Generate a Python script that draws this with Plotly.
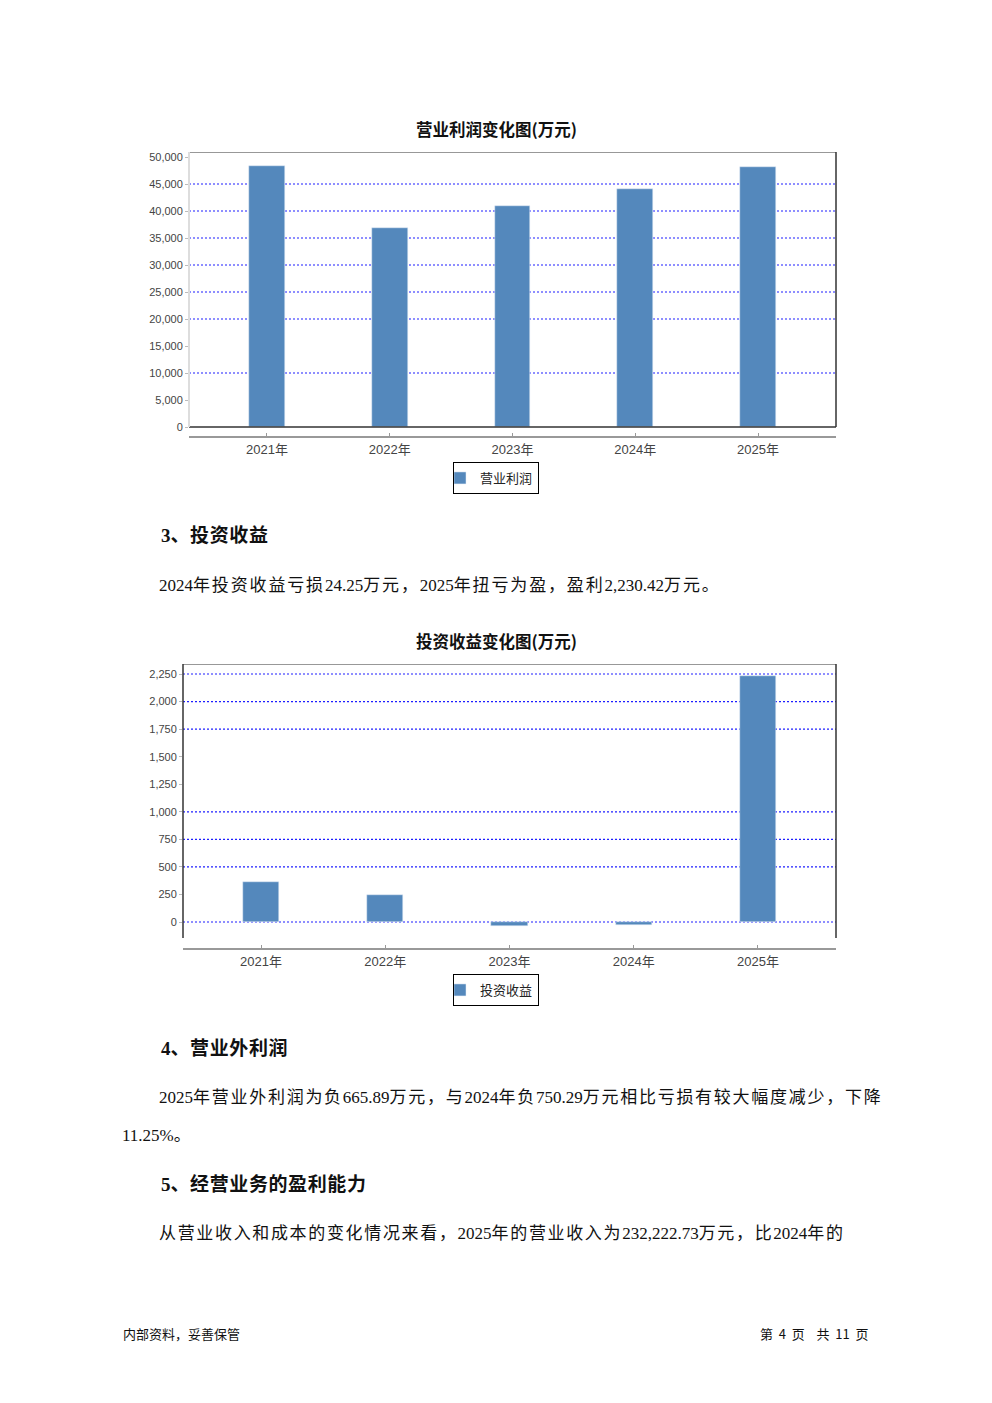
import re
import plotly.graph_objects as go

# ---------------- data ----------------
years = ["2021年", "2022年", "2023年", "2024年", "2025年"]
operating_profit = [48300, 36850, 40900, 44050, 48150]
investment_income = [363, 245, -36, -24.25, 2230.42]

y1_ticks = [0, 5000, 10000, 15000, 20000, 25000, 30000, 35000, 40000, 45000, 50000]
y1_grid = [10000, 20000, 25000, 30000, 35000, 40000, 45000]
y2_ticks = [0, 250, 500, 750, 1000, 1250, 1500, 1750, 2000, 2250]
y2_grid = [0, 500, 750, 1000, 1750, 2000, 2250]

title1 = "营业利润变化图(万元)"
title2 = "投资收益变化图(万元)"
legend1 = "营业利润"
legend2 = "投资收益"

PAGE_W, PAGE_H = 992, 1403
OFF = 8  # default body margin of the page
W, H = PAGE_W - OFF, PAGE_H - OFF
BAR = "#5488BC"
GRID = "#1f1fff"
DARK = "#333333"


def px(x):
    return (x - OFF) / W


def py(y):
    return 1 - (y - OFF) / H


fig = go.Figure()
fig.add_trace(go.Bar(x=years, y=operating_profit, name=legend1, marker_color=BAR,
                     width=0.29, xaxis="x", yaxis="y", legend="legend"))
fig.add_trace(go.Bar(x=years, y=investment_income, name=legend2, marker_color=BAR,
                     width=0.29, xaxis="x2", yaxis="y2", legend="legend2"))

# chart geometry (pixels)
c1_zero, c1_scale = 427, 5.4 / 1000
y1_lo = -(436 - c1_zero) / c1_scale
y1_hi = (c1_zero - 152) / c1_scale
c2_zero, c2_scale = 922, 248 / 2250
y2_lo = -(948 - c2_zero) / c2_scale
y2_hi = (c2_zero - 664) / c2_scale
y2_frame = -(938 - c2_zero) / c2_scale

tickfont = dict(family="Liberation Sans, Arial, sans-serif", size=11, color="#444")
xfont = dict(family="Liberation Sans, Noto Sans CJK SC, sans-serif", size=13, color="#444")
legfont = dict(family="Noto Sans CJK SC", size=13, color="#222")

fig.update_layout(
    width=W, height=H, margin=dict(l=0, r=0, t=0, b=0),
    paper_bgcolor="white", plot_bgcolor="white",
    bargap=0,
    xaxis=dict(domain=[px(189), px(836)], anchor="y", type="category",
               range=[-0.635, 4.635], showgrid=False, showline=True,
               linecolor="#999", linewidth=2, ticks="inside", ticklen=3,
               tickcolor="#999", tickfont=xfont),
    yaxis=dict(domain=[py(436), py(152)], anchor="x", range=[y1_lo, y1_hi],
               tickvals=y1_ticks, tickformat=",", showgrid=False, zeroline=False,
               showline=False, ticks="outside", ticklen=3, tickcolor="#bbb",
               tickfont=tickfont),
    xaxis2=dict(domain=[px(183), px(836)], anchor="y2", type="category",
                range=[-0.628, 4.628], showgrid=False, showline=True,
                linecolor="#999", linewidth=2, ticks="inside", ticklen=3,
                tickcolor="#999", tickfont=xfont),
    yaxis2=dict(domain=[py(948), py(664)], anchor="x2", range=[y2_lo, y2_hi],
                tickvals=y2_ticks, tickformat=",", showgrid=False, zeroline=False,
                showline=False, ticks="outside", ticklen=3, tickcolor="#bbb",
                tickfont=tickfont),
    legend=dict(x=px(496), xanchor="center", y=py(462), yanchor="top",
                bordercolor="black", borderwidth=1, itemwidth=30,
                font=legfont, itemclick=False, tracegroupgap=0,
                indentation=-14),
    legend2=dict(x=px(496), xanchor="center", y=py(974), yanchor="top",
                 bordercolor="black", borderwidth=1, itemwidth=30,
                 font=legfont, itemclick=False, tracegroupgap=0,
                 indentation=-14),
    showlegend=True,
)

shapes = []
for v in y1_grid:
    shapes.append(dict(type="line", xref="x domain", yref="y", x0=0, x1=1, y0=v, y1=v,
                       line=dict(color=GRID, width=1.2, dash="2px,2px"), layer="below"))
for v in y2_grid:
    shapes.append(dict(type="line", xref="x2 domain", yref="y2", x0=0, x1=1, y0=v, y1=v,
                       line=dict(color=GRID, width=1.2, dash="2px,2px"), layer="below"))
shapes += [
    dict(type="line", xref="x domain", yref="y", x0=0, x1=1, y0=y1_hi, y1=y1_hi, line=dict(color=DARK, width=1)),
    dict(type="line", xref="x domain", yref="y", x0=0, x1=1, y0=0, y1=0, line=dict(color=DARK, width=1.5)),
    dict(type="line", xref="x domain", yref="y", x0=1, x1=1, y0=0, y1=y1_hi, line=dict(color=DARK, width=1.5)),
    dict(type="line", xref="x domain", yref="y", x0=0, x1=0, y0=0, y1=y1_hi, line=dict(color="#dddddd", width=2)),
]
shapes += [
    dict(type="line", xref="x2 domain", yref="y2", x0=0, x1=1, y0=y2_hi, y1=y2_hi, line=dict(color=DARK, width=1)),
    dict(type="line", xref="x2 domain", yref="y2", x0=0, x1=0, y0=y2_frame, y1=y2_hi, line=dict(color=DARK, width=1.5)),
    dict(type="line", xref="x2 domain", yref="y2", x0=1, x1=1, y0=y2_frame, y1=y2_hi, line=dict(color=DARK, width=1.5)),
]
fig.update_layout(shapes=shapes)

BODY = "Liberation Serif, Noto Sans CJK SC, serif"
CJK = "Noto Sans CJK SC, sans-serif"
CJK_RUN = re.compile(r"([\u3000-\u303f\u4e00-\u9fff\uff00-\uffef]+)")


def spaced(t, ls):
    if not ls:
        return t
    return CJK_RUN.sub(lambda m: f'<span style="letter-spacing:{ls}px">{m.group(1)}</span>', t)


texts = [
    # (text, x, y, anchor, family, size, bold, CJK letter spacing)
    (title1, 496, 129, "center", CJK, 16.5, True, 0),
    ("3、投资收益", 159, 536, "left", BODY, 19, True, 0.6),
    ("2024年投资收益亏损24.25万元，2025年扭亏为盈，盈利2,230.42万元。", 157, 585, "left", BODY, 17, False, 1.85),
    (title2, 496, 641, "center", CJK, 16.5, True, 0),
    ("4、营业外利润", 159, 1048, "left", BODY, 19, True, 0.6),
    ("2025年营业外利润为负665.89万元，与2024年负750.29万元相比亏损有较大幅度减少，下降", 157, 1097, "left", BODY, 17, False, 1.73),
    ("11.25%。", 120, 1135, "left", BODY, 17, False, 1.0),
    ("5、经营业务的盈利能力", 159, 1184, "left", BODY, 19, True, 0.6),
    ("从营业收入和成本的变化情况来看，2025年的营业收入为232,222.73万元，比2024年的", 157, 1233, "left", BODY, 17, False, 1.66),
    ("内部资料，妥善保管", 121, 1333, "left", CJK, 13, False, 0),
    ("第  4  页    共  11  页", 871, 1333, "right", CJK, 13, False, 0),
]
ann = []
for t, x, y, a, fam, size, bold, ls in texts:
    s = spaced(t, ls)
    if bold:
        s = f"<b>{s}</b>"
    ann.append(dict(text=s, x=px(x), y=py(y), xref="paper", yref="paper",
                    xanchor=a, yanchor="middle", showarrow=False,
                    font=dict(family=fam, size=size, color="#111")))
fig.update_layout(annotations=ann)

fig.write_html("out.html")
